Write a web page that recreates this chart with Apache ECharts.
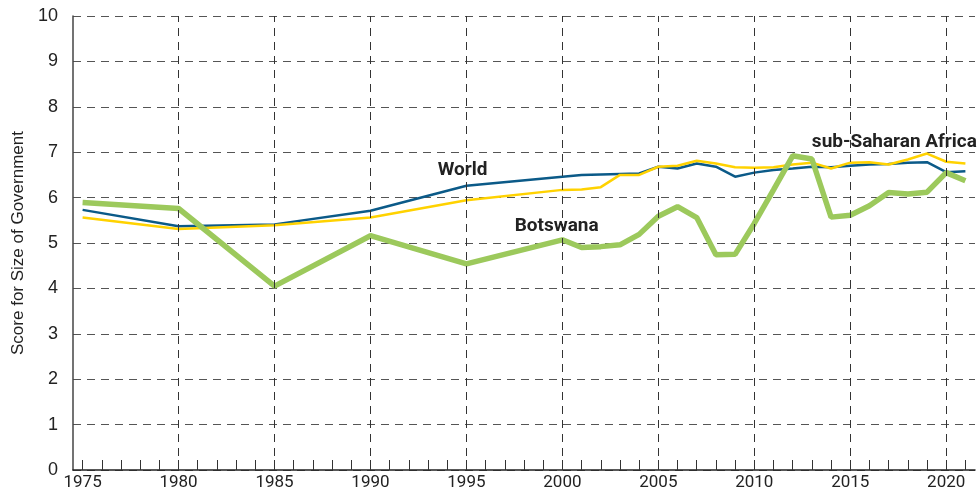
<!DOCTYPE html>
<html>
<head>
<meta charset="utf-8">
<script src="https://cdn.jsdelivr.net/npm/echarts@6/dist/echarts.min.js"></script>
<style>
  html, body { margin: 0; padding: 0; background: #fff; }
  #chart { width: 977px; height: 492px; }
</style>
</head>
<body>
<div id="chart"></div>
<script>
  // 年份与各序列取值
  var years = [1975, 1980, 1985, 1990, 1995, 2000, 2001, 2002, 2003, 2004, 2005, 2006, 2007, 2008,
    2009, 2010, 2011, 2012, 2013, 2014, 2015, 2016, 2017, 2018, 2019, 2020, 2021]
  var world = [5.73, 5.37, 5.41, 5.71, 6.26, 6.46, 6.50, 6.51, 6.52, 6.53, 6.68, 6.64, 6.75, 6.68,
    6.46, 6.55, 6.61, 6.64, 6.68, 6.67, 6.70, 6.73, 6.74, 6.77, 6.78, 6.56, 6.58]
  var subSaharan = [5.56, 5.31, 5.39, 5.56, 5.94, 6.17, 6.18, 6.23, 6.50, 6.50, 6.68, 6.70, 6.81, 6.75,
    6.67, 6.66, 6.67, 6.73, 6.77, 6.64, 6.77, 6.78, 6.73, 6.84, 6.97, 6.79, 6.75]
  var botswana = [5.89, 5.76, 4.05, 5.16, 4.54, 5.07, 4.90, 4.92, 4.96, 5.19, 5.59, 5.80, 5.56, 4.74,
    4.75, 5.43, 6.17, 6.92, 6.85, 5.57, 5.61, 5.82, 6.11, 6.08, 6.12, 6.55, 6.37]

  // 刻度
  var tickYears = []
  for (var y = 1975; y <= 2021; y++) tickYears.push(y)
  var labelYears = [1975, 1980, 1985, 1990, 1995, 2000, 2005, 2010, 2015, 2020]
  var gridYears = [1980, 1985, 1990, 1995, 2000, 2005, 2010, 2015, 2020]

  function pairs (ys) {
    return years.map(function (yr, i) { return [yr, ys[i]] })
  }

  var narrow = "Roboto, 'Liberation Sans', sans-serif"
  var plain = "'Liberation Sans', Arial, sans-serif"
  var noteLabel = {
    show: true,
    position: 'inside',
    fontFamily: narrow,
    fontWeight: 'bold',
    fontSize: 19,
    color: '#222'
  }

  var myChart = echarts.init(document.getElementById('chart'))
  var myOption = {
    animation: false,
    grid: { left: 73, right: 2, top: 16, bottom: 22 },
    xAxis: {
      type: 'value',
      min: 1974.5,
      max: 2021.5,
      axisLine: { show: true, lineStyle: { color: '#222', width: 1.5 } },
      axisTick: {
        show: true,
        inside: true,
        length: 10,
        customValues: tickYears,
        lineStyle: { color: '#333', width: 1 }
      },
      axisLabel: {
        customValues: labelYears,
        formatter: function (v) { return String(v) },
        color: '#222',
        fontFamily: narrow,
        fontSize: 17,
        margin: 4
      },
      splitLine: { show: false }
    },
    yAxis: {
      type: 'value',
      min: 0,
      max: 10,
      interval: 1,
      name: 'Score for Size of Government',
      nameLocation: 'middle',
      nameGap: 46,
      nameTextStyle: { color: '#222', fontSize: 17, fontFamily: plain },
      axisLine: { show: true, lineStyle: { color: '#444', width: 1.5 } },
      axisTick: { show: false },
      axisLabel: { color: '#222', fontSize: 18, margin: 15, fontFamily: plain },
      splitLine: { show: true, lineStyle: { color: '#555', type: [8, 6], width: 1 } }
    },
    series: [
      {
        // 竖向网格线
        name: 'grid',
        type: 'line',
        data: [],
        silent: true,
        markLine: {
          symbol: 'none',
          silent: true,
          label: { show: false },
          lineStyle: { color: '#333', type: [8, 6], width: 1 },
          data: gridYears.map(function (g) { return { xAxis: g } })
        }
      },
      {
        name: 'World',
        type: 'line',
        data: pairs(world),
        symbol: 'none',
        lineStyle: { color: '#0b5a88', width: 2.5 },
        markPoint: {
          symbol: 'circle',
          symbolSize: 0,
          label: Object.assign({ formatter: 'World' }, noteLabel),
          data: [{ coord: [1994.8, 6.6] }]
        }
      },
      {
        name: 'sub-Saharan Africa',
        type: 'line',
        data: pairs(subSaharan),
        symbol: 'none',
        lineStyle: { color: '#ffd200', width: 2.5 },
        markPoint: {
          symbol: 'circle',
          symbolSize: 0,
          label: Object.assign({ formatter: 'sub-Saharan Africa' }, noteLabel),
          data: [{ coord: [2017.3, 7.23] }]
        }
      },
      {
        name: 'Botswana',
        type: 'line',
        data: pairs(botswana),
        symbol: 'none',
        lineStyle: { color: '#9cc95c', width: 5.5 },
        markPoint: {
          symbol: 'circle',
          symbolSize: 0,
          label: Object.assign({ formatter: 'Botswana' }, noteLabel),
          data: [{ coord: [1999.7, 5.37] }]
        }
      }
    ]
  }
  myChart.setOption(myOption)
</script>
</body>
</html>
